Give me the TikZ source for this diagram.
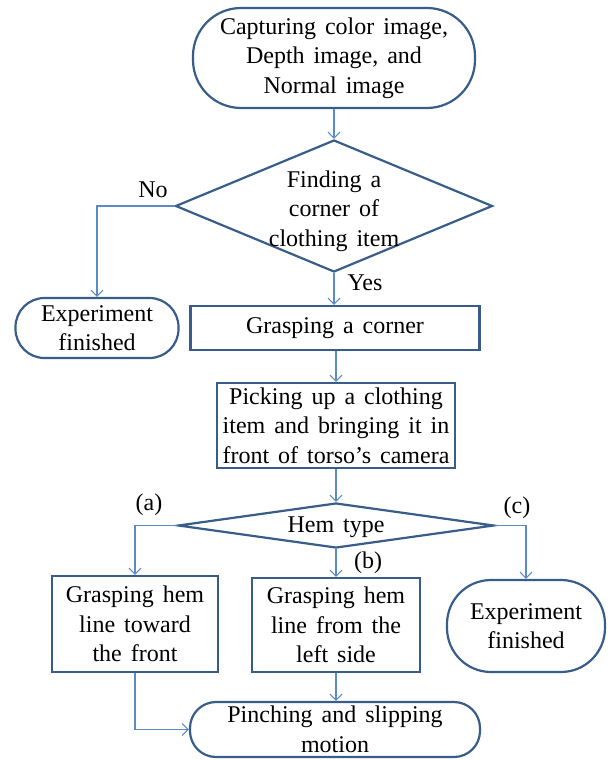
\documentclass[tikz,border=0pt]{standalone}
\usepackage{fontspec}
\setmainfont{Liberation Serif}[WordSpace=1.5]
\usepackage{tikz}
\usetikzlibrary{shapes.geometric,arrows.meta}

\definecolor{boxblue}{RGB}{56,93,138}
\definecolor{linkblue}{RGB}{92,138,196}

\tikzset{
  every node/.style={font=\fontsize{24}{29.5}\selectfont},
  term/.style={rectangle, rounded corners=#1, draw=boxblue, line width=2.2pt, align=center, inner sep=0pt},
  proc/.style={rectangle, draw=boxblue, line width=2.2pt, align=center, inner sep=0pt},
  decide/.style={diamond, draw=boxblue, line width=2.2pt, inner sep=0pt},
  link/.style={draw=linkblue, line width=1.1pt, -{Straight Barb[length=6pt,width=12pt]}},
}

\begin{document}
\begin{tikzpicture}[x=1pt,y=-1pt]
	\useasboundingbox (0,0) rectangle (611,760);

            % start and first decision
            \node[term=48, minimum width=282, minimum height=100] (capture) at (334,58)
              {Capturing color image,\\Depth image, and\\Normal image};
            \node[decide, minimum width=317, minimum height=132] (find) at (334,206) {};
            \node[align=center] (findtext) at (334,211) {Finding a\\corner of\\clothing item};
            \node[term=29, minimum width=163, minimum height=60] (expno) at (97,328)
              {Experiment\\finished};
            \node (no) at (153,190) {No};
            \node (yes) at (365,283) {Yes};

            \node[proc, minimum width=289, minimum height=44] (grasp) at (335,328) {Grasping a corner};
            \node[proc, minimum width=238, minimum height=85] (pick) at (336,425.5)
              {Picking up a clothing\\item and bringing it in\\front of torso’s camera};

            % hem type and its three cases
            \node[decide, minimum width=316, minimum height=45] (hem) at (336,525.5) {};
            \node (hemtext) at (336,527) {Hem type};
            \node (casea) at (149,505) {(a)};
            \node (caseb) at (368,563) {(b)};
            \node (casec) at (517,508) {(c)};

            \node[proc, minimum width=166, minimum height=96] (front) at (135,624)
              {Grasping hem\\line toward\\the front};
            \node[proc, minimum width=168, minimum height=94] (left) at (336,625)
              {Grasping hem\\line from the\\left side};
            \node[term=44, minimum width=158, minimum height=92] (exphem) at (526,626)
              {Experiment\\finished};
            \node[term=26, minimum width=290, minimum height=55] (pinch) at (335,729.5)
              {Pinching and slipping\\motion};

            \draw[link] (capture.south) -- (find.north);
            \draw[link] (find.west) -| (expno.north);
            \draw[link] (find.south) -- (find.south |- grasp.north);
            \draw[link] (grasp.south) -- (grasp.south -| pick.north) -- (pick.north);
            \draw[link] (pick.south) -- (hem.north);
            \draw[link] (hem.west) -| (front.north);
            \draw[link] (hem.south) -- (left.north);
            \draw[link] (hem.east) -| (exphem.north);
            \draw[link] (left.south) -- (left.south |- pinch.north);
            \draw[link] (front.south) |- (pinch.west);

        \end{tikzpicture}
\end{document}
